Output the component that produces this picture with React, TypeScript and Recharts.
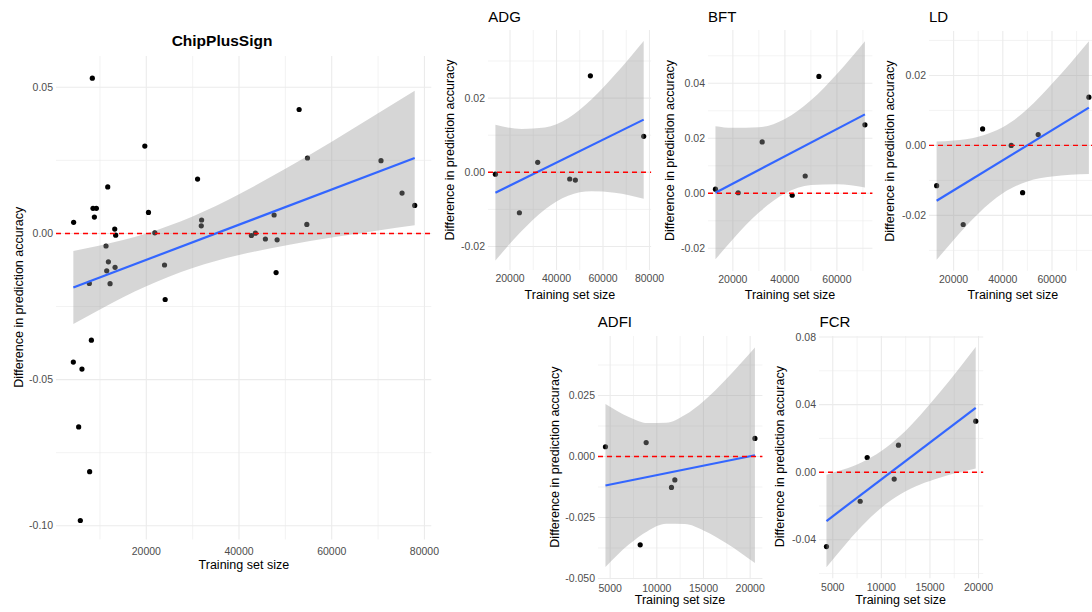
import React from 'react';
import {
  ComposedChart,
  Scatter,
  Area,
  Line,
  XAxis,
  YAxis,
  CartesianGrid,
  ReferenceLine,
} from 'recharts';

const FONT = '"Liberation Sans", Arial, Helvetica, sans-serif';

// ---------- ChipPlusSign ----------
const chipSize = [4324, 8360, 8500, 9230, 8800, 11680, 13190, 13400, 11310, 11820, 11460, 13260, 7710, 12180, 19680, 20470, 21840, 23930, 24070, 31060, 31930, 31860, 42670, 43530, 45690, 47570, 48220, 48000, 52970, 54770, 54630, 70630, 75170, 77900, 8150, 4260, 6120, 5410, 7780, 5770];
const chipDiff = [0.0038, 0.0531, 0.0086, 0.0086, 0.0056, 0.0159, 0.0015, -0.0006, -0.0043, -0.0097, -0.0128, -0.0116, -0.0171, -0.0172, 0.0299, 0.0072, 0.0002, -0.0108, -0.0226, 0.0186, 0.0046, 0.0026, -0.0007, 0.0001, -0.0019, 0.0063, -0.0022, -0.0134, 0.0424, 0.0258, 0.0031, 0.0249, 0.0138, 0.0096, -0.0365, -0.0440, -0.0464, -0.0662, -0.0815, -0.0982];
const chipBandX = [4260, 10000, 20000, 30000, 40000, 50000, 60000, 70000, 77900];
const chipBandLo = [-0.0310, -0.0260, -0.0181, -0.0118, -0.0074, -0.0041, -0.0014, 0.0010, 0.0028];
const chipBandHi = [-0.0060, -0.0041, 0.0000, 0.0058, 0.0134, 0.0221, 0.0314, 0.0411, 0.0488];
const chipFitX = [4260, 77900];
const chipFitY = [-0.0185, 0.0258];

// ---------- ADG ----------
const adgSize = [13720, 24040, 31910, 45680, 48110, 54570, 77500];
const adgDiff = [-0.0005, -0.0109, 0.0027, -0.0018, -0.0021, 0.0260, 0.0097];
const adgBandX = [13720, 25000, 35000, 45000, 55000, 65000, 77500];
const adgBandLo = [-0.0238, -0.0158, -0.0100, -0.0063, -0.0051, -0.0055, -0.0071];
const adgBandHi = [0.0128, 0.0117, 0.0121, 0.0146, 0.0196, 0.0262, 0.0354];
const adgFitX = [13720, 77500];
const adgFitY = [-0.0055, 0.0142];

// ---------- BFT ----------
const bftSize = [13310, 22040, 31270, 42810, 47810, 53080, 70770];
const bftDiff = [0.0015, 0.0002, 0.0187, -0.0007, 0.0063, 0.0425, 0.0249];
const bftBandX = [13310, 20000, 30000, 40000, 50000, 60000, 70770];
const bftBandLo = [-0.0240, -0.0167, -0.0070, -0.0001, 0.0030, 0.0033, 0.0021];
const bftBandHi = [0.0244, 0.0238, 0.0240, 0.0270, 0.0338, 0.0434, 0.0553];
const bftFitX = [13310, 70770];
const bftFitY = [0.0002, 0.0287];

// ---------- LD ----------
const ldSize = [13090, 23900, 31790, 43420, 48050, 54390, 75000];
const ldDiff = [-0.0115, -0.0226, 0.0047, 0.0000, -0.0135, 0.0031, 0.0138];
const ldBandX = [13090, 20000, 30000, 40000, 50000, 60000, 75000];
const ldBandLo = [-0.0327, -0.0270, -0.0195, -0.0137, -0.0103, -0.0089, -0.0082];
const ldBandHi = [0.0011, 0.0014, 0.0025, 0.0052, 0.0104, 0.0176, 0.0298];
const ldFitX = [13090, 75000];
const ldFitY = [-0.0158, 0.0108];

// ---------- ADFI ----------
const adfiSize = [4500, 8220, 8860, 11570, 11930, 20510];
const adfiDiff = [0.0040, -0.0362, 0.0057, -0.0127, -0.0096, 0.0074];
const adfiBandX = [4500, 7000, 9000, 11000, 13000, 15000, 17500, 20510];
const adfiBandLo = [-0.0453, -0.0361, -0.0306, -0.0276, -0.0277, -0.0303, -0.0357, -0.0437];
const adfiBandHi = [0.0215, 0.0162, 0.0137, 0.0138, 0.0170, 0.0227, 0.0320, 0.0447];
const adfiFitX = [4500, 20510];
const adfiFitY = [-0.0119, 0.0005];

// ---------- FCR ----------
const fcrSize = [4350, 7820, 8540, 11320, 11760, 19710];
const fcrDiff = [-0.0440, -0.0172, 0.0087, -0.0041, 0.0160, 0.0302];
const fcrBandX = [4350, 6000, 8000, 10000, 12000, 14000, 16000, 18000, 19710];
const fcrBandLo = [-0.0563, -0.0448, -0.0319, -0.0210, -0.0129, -0.0073, -0.0033, -0.0001, 0.0022];
const fcrBandHi = [-0.0015, 0.0014, 0.0059, 0.0125, 0.0218, 0.0337, 0.0471, 0.0614, 0.0741];
const fcrFitX = [4350, 19710];
const fcrFitY = [-0.0289, 0.0381];

// ---------- ticks ----------
const bigXTicks = [20000, 40000, 60000, 80000];
const bigXMinor = [10000, 30000, 50000, 70000];
const chipYTicks = [-0.1, -0.05, 0, 0.05];
const chipYMinor = [-0.075, -0.025, 0.025];
const adgXTicks = [20000, 40000, 60000, 80000];
const midXTicks = [20000, 40000, 60000];
const midXMinor = [30000, 50000, 70000];
const adgYTicks = [-0.02, 0, 0.02];
const adgYMinor = [-0.01, 0.01, 0.03];
const bftYTicks = [-0.02, 0, 0.02, 0.04];
const bftYMinor = [-0.01, 0.01, 0.03, 0.05];
const ldYTicks = [-0.02, 0, 0.02];
const ldYMinor = [-0.03, -0.01, 0.01, 0.03];
const smallXTicks = [5000, 10000, 15000, 20000];
const smallXMinor = [7500, 12500, 17500];
const adfiYTicks = [-0.05, -0.025, 0, 0.025];
const adfiYMinor = [-0.0375, -0.0125, 0.0125, 0.0375];
const fcrYTicks = [-0.04, 0, 0.04, 0.08];
const fcrYMinor = [-0.06, -0.02, 0.02, 0.06];

const Y_TITLE = 'Difference in prediction accuracy';
const X_TITLE = 'Training set size';

type PanelCfg = {
  name: string;
  bold?: boolean;
  x0: number; x1: number; y0: number; y1: number;
  xDomain: [number, number]; yDomain: [number, number];
  xTicks: number[]; xMinor: number[]; yTicks: number[]; yMinor: number[];
  dec: number; xTickMargin: number;
  sizes: number[]; diffs: number[];
  bandX: number[]; bandLo: number[]; bandHi: number[];
  fitX: number[]; fitY: number[];
  titleX: number; titleY: number; titleAnchor: 'start' | 'middle'; titleSize: number;
  yTitleX: number; xTitleY: number;
};

const panels: PanelCfg[] = [
  {
    name: 'ChipPlusSign', bold: true,
    x0: 56.2, x1: 431.5, y0: 55.5, y1: 539,
    xDomain: [520, 81480], yDomain: [-0.1047, 0.0607],
    xTicks: bigXTicks, xMinor: bigXMinor, yTicks: chipYTicks, yMinor: chipYMinor,
    dec: 2, xTickMargin: 8,
    sizes: chipSize, diffs: chipDiff, bandX: chipBandX, bandLo: chipBandLo, bandHi: chipBandHi,
    fitX: chipFitX, fitY: chipFitY,
    titleX: 222, titleY: 45.5, titleAnchor: 'middle', titleSize: 15.5,
    yTitleX: 18.5, xTitleY: 568.5,
  },
  {
    name: 'ADG',
    x0: 488.3, x1: 651.4, y0: 30, y1: 270,
    xDomain: [10531, 80689], yDomain: [-0.02633, 0.03836],
    xTicks: adgXTicks, xMinor: midXMinor, yTicks: adgYTicks, yMinor: adgYMinor,
    dec: 2, xTickMargin: 5,
    sizes: adgSize, diffs: adgDiff, bandX: adgBandX, bandLo: adgBandLo, bandHi: adgBandHi,
    fitX: adgFitX, fitY: adgFitY,
    titleX: 488.3, titleY: 21.5, titleAnchor: 'start', titleSize: 15,
    yTitleX: 450.3, xTitleY: 298.5,
  },
  {
    name: 'BFT',
    x0: 707.8, x1: 872.2, y0: 30, y1: 271,
    xDomain: [10437, 73643], yDomain: [-0.02825, 0.05938],
    xTicks: midXTicks, xMinor: midXMinor, yTicks: bftYTicks, yMinor: bftYMinor,
    dec: 2, xTickMargin: 5,
    sizes: bftSize, diffs: bftDiff, bandX: bftBandX, bandLo: bftBandLo, bandHi: bftBandHi,
    fitX: bftFitX, fitY: bftFitY,
    titleX: 708, titleY: 21.5, titleAnchor: 'start', titleSize: 15,
    yTitleX: 670.3, xTitleY: 298.5,
  },
  {
    name: 'LD',
    x0: 929.1, x1: 1096.6, y0: 31.3, y1: 271,
    xDomain: [9994, 78096], yDomain: [-0.0358, 0.0327],
    xTicks: midXTicks, xMinor: midXMinor, yTicks: ldYTicks, yMinor: ldYMinor,
    dec: 2, xTickMargin: 5,
    sizes: ldSize, diffs: ldDiff, bandX: ldBandX, bandLo: ldBandLo, bandHi: ldBandHi,
    fitX: ldFitX, fitY: ldFitY,
    titleX: 929, titleY: 21.5, titleAnchor: 'start', titleSize: 15,
    yTitleX: 890, xTitleY: 298.5,
  },
  {
    name: 'ADFI',
    x0: 597.8, x1: 762.2, y0: 335.5, y1: 578.7,
    xDomain: [3700, 21310], yDomain: [-0.0503, 0.0494],
    xTicks: smallXTicks, xMinor: smallXMinor, yTicks: adfiYTicks, yMinor: adfiYMinor,
    dec: 3, xTickMargin: 5,
    sizes: adfiSize, diffs: adfiDiff, bandX: adfiBandX, bandLo: adfiBandLo, bandHi: adfiBandHi,
    fitX: adfiFitX, fitY: adfiFitY,
    titleX: 597.8, titleY: 326.5, titleAnchor: 'start', titleSize: 15,
    yTitleX: 554.7, xTitleY: 604,
  },
  {
    name: 'FCR',
    x0: 818.5, x1: 982.7, y0: 335.5, y1: 577.8,
    xDomain: [3582, 20478], yDomain: [-0.0628, 0.0806],
    xTicks: smallXTicks, xMinor: smallXMinor, yTicks: fcrYTicks, yMinor: fcrYMinor,
    dec: 2, xTickMargin: 5,
    sizes: fcrSize, diffs: fcrDiff, bandX: fcrBandX, bandLo: fcrBandLo, bandHi: fcrBandHi,
    fitX: fcrFitX, fitY: fcrFitY,
    titleX: 819.5, titleY: 326.5, titleAnchor: 'start', titleSize: 15,
    yTitleX: 779.7, xTitleY: 604,
  },
];

const YW = 50;
const XH = 30;
const MT = 12;
const MR = 30;

const Dot = (props: any) => {
  const { cx, cy } = props;
  if (cx == null || cy == null) return null;
  return <circle cx={cx} cy={cy} r={2.6} fill="#000000" />;
};

const tickStyle = { fill: '#4D4D4D', fontSize: 10.5, fontFamily: FONT };

function Panel({ p }: { p: PanelCfg }) {
  const left = p.x0 - YW;
  const top = p.y0 - MT;
  const width = p.x1 - p.x0 + YW + MR;
  const height = p.y1 - p.y0 + XH + MT;
  const bandData = p.bandX.map((x, i) => ({ x, band: [p.bandLo[i], p.bandHi[i]] }));
  const pts = p.sizes.map((x, i) => ({ x, y: p.diffs[i] }));
  const fit = p.fitX.map((x, i) => ({ x, y: p.fitY[i] }));
  return (
    <div style={{ position: 'absolute', left, top, width, height }}>
      <ComposedChart
        width={width}
        height={height}
        data={bandData}
        margin={{ top: MT, right: MR, bottom: 0, left: 0 }}
      >
        <CartesianGrid
          horizontalValues={p.yMinor}
          verticalValues={p.xMinor}
          stroke="#EBEBEB"
          strokeWidth={0.6}
        />
        <CartesianGrid
          horizontalValues={p.yTicks}
          verticalValues={p.xTicks}
          stroke="#EBEBEB"
          strokeWidth={1.1}
        />
        <XAxis
          type="number"
          dataKey="x"
          domain={p.xDomain}
          allowDataOverflow
          ticks={p.xTicks}
          interval={0}
          axisLine={false}
          tickLine={false}
          tickSize={0}
          tickMargin={p.xTickMargin}
          height={XH}
          tick={tickStyle}
          tickFormatter={(v: number) => String(v)}
        />
        <YAxis
          type="number"
          domain={p.yDomain}
          allowDataOverflow
          ticks={p.yTicks}
          interval={0}
          axisLine={false}
          tickLine={false}
          tickSize={0}
          tickMargin={3}
          width={YW}
          tick={tickStyle}
          tickFormatter={(v: number) => v.toFixed(p.dec)}
        />
        <Scatter data={pts} dataKey="y" shape={Dot} isAnimationActive={false} zIndex={100} />
        <Area
          dataKey="band"
          type="monotone"
          stroke="none"
          fill="#999999"
          fillOpacity={0.4}
          isAnimationActive={false}
          zIndex={200}
        />
        <Line
          data={fit}
          dataKey="y"
          type="linear"
          stroke="#3366FF"
          strokeWidth={2.2}
          dot={false}
          activeDot={false}
          isAnimationActive={false}
          zIndex={300}
        />
        <ReferenceLine y={0} stroke="#FF0000" strokeWidth={1.4} strokeDasharray="5 4" zIndex={400} />
      </ComposedChart>
    </div>
  );
}

export default function App() {
  return (
    <div
      style={{
        position: 'fixed',
        left: 0,
        top: 0,
        width: 1092,
        height: 612,
        overflow: 'hidden',
        background: '#ffffff',
      }}
    >
      {panels.map((p) => (
        <Panel key={p.name} p={p} />
      ))}
      <svg
        width={1092}
        height={612}
        style={{ position: 'absolute', left: 0, top: 0, pointerEvents: 'none' }}
      >
        {panels.map((p) => {
          const cy = (p.y0 + p.y1) / 2;
          const cx = (p.x0 + p.x1) / 2;
          return (
            <g key={p.name} fontFamily={FONT}>
              <text
                x={p.titleX}
                y={p.titleY}
                textAnchor={p.titleAnchor}
                fontSize={p.titleSize}
                fontWeight={p.bold ? 'bold' : 'normal'}
                fill="#000"
              >
                {p.name}
              </text>
              <text
                x={p.yTitleX}
                y={cy}
                textAnchor="middle"
                dominantBaseline="central"
                fontSize={12.5}
                fill="#000"
                transform={`rotate(-90 ${p.yTitleX} ${cy})`}
              >
                {Y_TITLE}
              </text>
              <text x={cx} y={p.xTitleY} textAnchor="middle" fontSize={12.5} fill="#000">
                {X_TITLE}
              </text>
            </g>
          );
        })}
      </svg>
    </div>
  );
}
